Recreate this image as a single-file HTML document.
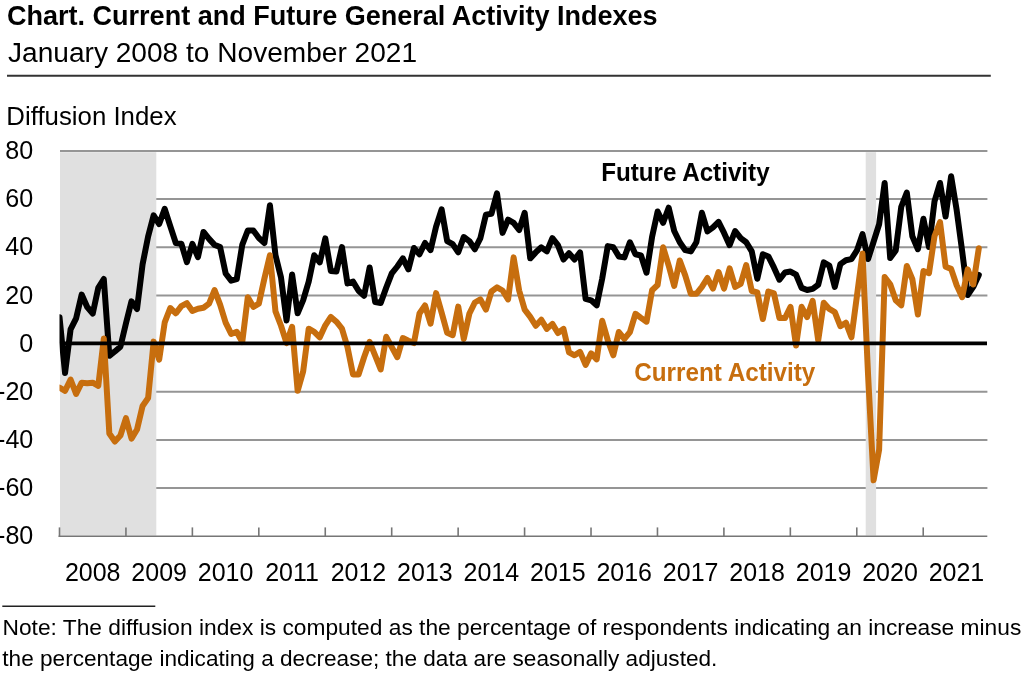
<!DOCTYPE html>
<html><head><meta charset="utf-8"><style>
html,body{margin:0;padding:0;background:#fff;}
body{width:1024px;height:689px;overflow:hidden;}
svg{display:block;font-family:"Liberation Sans", sans-serif;will-change:transform;}
</style></head><body>
<svg width="1024" height="689" viewBox="0 0 1024 689">
<rect width="1024" height="689" fill="#fff"/>
<line x1="60" x2="987.4" y1="150.90" y2="150.90" stroke="#959595" stroke-width="2"/>
<line x1="60" x2="987.4" y1="199.07" y2="199.07" stroke="#959595" stroke-width="2"/>
<line x1="60" x2="987.4" y1="247.25" y2="247.25" stroke="#959595" stroke-width="2"/>
<line x1="60" x2="987.4" y1="295.42" y2="295.42" stroke="#959595" stroke-width="2"/>
<line x1="60" x2="987.4" y1="391.77" y2="391.77" stroke="#959595" stroke-width="2"/>
<line x1="60" x2="987.4" y1="439.95" y2="439.95" stroke="#959595" stroke-width="2"/>
<line x1="60" x2="987.4" y1="488.12" y2="488.12" stroke="#959595" stroke-width="2"/>
<rect x="60" y="152.2" width="96.3" height="383.3" fill="#E0E0E0"/>
<rect x="865.7" y="152.2" width="10.4" height="383.3" fill="#E0E0E0"/>
<line x1="58.6" x2="987.3" y1="536.3" y2="536.3" stroke="#767676" stroke-width="1.6"/>
<line x1="59.50" x2="59.50" y1="527.4" y2="537" stroke="#767676" stroke-width="1.6"/>
<line x1="125.94" x2="125.94" y1="527.4" y2="537" stroke="#767676" stroke-width="1.6"/>
<line x1="192.38" x2="192.38" y1="527.4" y2="537" stroke="#767676" stroke-width="1.6"/>
<line x1="258.82" x2="258.82" y1="527.4" y2="537" stroke="#767676" stroke-width="1.6"/>
<line x1="325.26" x2="325.26" y1="527.4" y2="537" stroke="#767676" stroke-width="1.6"/>
<line x1="391.70" x2="391.70" y1="527.4" y2="537" stroke="#767676" stroke-width="1.6"/>
<line x1="458.14" x2="458.14" y1="527.4" y2="537" stroke="#767676" stroke-width="1.6"/>
<line x1="524.58" x2="524.58" y1="527.4" y2="537" stroke="#767676" stroke-width="1.6"/>
<line x1="591.02" x2="591.02" y1="527.4" y2="537" stroke="#767676" stroke-width="1.6"/>
<line x1="657.46" x2="657.46" y1="527.4" y2="537" stroke="#767676" stroke-width="1.6"/>
<line x1="723.90" x2="723.90" y1="527.4" y2="537" stroke="#767676" stroke-width="1.6"/>
<line x1="790.34" x2="790.34" y1="527.4" y2="537" stroke="#767676" stroke-width="1.6"/>
<line x1="856.78" x2="856.78" y1="527.4" y2="537" stroke="#767676" stroke-width="1.6"/>
<line x1="923.22" x2="923.22" y1="527.4" y2="537" stroke="#767676" stroke-width="1.6"/>
<clipPath id="pc"><rect x="59.5" y="0" width="940" height="689"/></clipPath>
<polyline clip-path="url(#pc)" points="59.50,317.14 65.04,373.06 70.58,329.38 76.11,318.34 81.65,294.58 87.19,307.06 92.73,313.54 98.27,287.86 103.80,278.98 109.34,355.78 114.88,351.46 120.42,346.66 125.96,323.38 131.49,301.30 137.03,308.98 142.57,264.34 148.11,236.50 153.65,215.38 159.18,224.02 164.72,208.90 170.26,226.18 175.80,242.98 181.34,243.70 186.87,262.18 192.41,243.94 197.95,257.14 203.49,231.94 209.03,238.90 214.56,244.90 220.10,247.06 225.64,273.46 231.18,280.66 236.72,279.22 242.25,244.90 247.79,230.50 253.33,230.50 258.87,237.94 264.41,242.98 269.94,205.30 275.48,255.22 281.02,277.54 286.56,320.50 292.10,274.42 297.63,313.30 303.17,300.10 308.71,281.62 314.25,255.22 319.79,262.42 325.32,238.42 330.86,271.06 336.40,271.54 341.94,247.06 347.48,283.54 353.01,281.62 358.55,290.74 364.09,295.78 369.63,267.46 375.17,302.02 380.70,302.98 386.24,287.62 391.78,273.46 397.32,266.50 402.86,258.34 408.39,269.38 413.93,248.02 419.47,254.26 425.01,242.98 430.55,250.18 436.08,226.66 441.62,209.38 447.16,241.06 452.70,244.18 458.24,252.34 463.77,236.98 469.31,241.06 474.85,249.22 480.39,238.18 485.93,214.66 491.46,213.70 497.00,193.30 502.54,232.90 508.08,219.70 513.62,222.82 519.15,230.02 524.69,212.74 530.23,258.34 535.77,252.34 541.31,247.30 546.84,251.38 552.38,238.18 557.92,245.14 563.46,259.54 569.00,253.30 574.53,259.54 580.07,252.34 585.61,298.90 591.15,300.34 596.69,305.38 602.22,278.50 607.76,246.10 613.30,247.30 618.84,256.42 624.38,257.38 629.91,242.26 635.45,254.26 640.99,255.46 646.53,272.74 652.07,236.98 657.60,211.54 663.14,222.82 668.68,207.70 674.22,230.98 679.76,242.26 685.29,250.18 690.83,251.38 696.37,242.26 701.91,212.74 707.45,231.46 712.98,227.38 718.52,221.86 724.06,232.90 729.60,245.14 735.14,230.98 740.67,238.18 746.21,242.26 751.75,251.38 757.29,278.74 762.83,254.26 768.36,256.42 773.90,267.46 779.44,279.70 784.98,272.50 790.52,271.54 796.05,274.66 801.59,287.86 807.13,290.02 812.67,288.82 818.21,284.74 823.74,262.42 829.28,265.54 834.82,286.90 840.36,264.10 845.90,260.26 851.43,259.06 856.97,250.42 862.51,234.10 868.05,259.06 873.59,241.78 879.12,224.26 884.66,182.98 890.20,258.10 895.74,250.42 901.28,206.74 906.81,192.58 912.35,236.26 917.89,249.22 923.43,218.74 928.97,247.06 934.50,201.46 940.04,182.98 945.58,216.58 951.12,176.26 956.66,210.10 962.19,251.38 967.73,295.06 973.27,286.90 978.81,274.90" fill="none" stroke="#000" stroke-width="6" stroke-linejoin="round" stroke-linecap="round"/>
<polyline clip-path="url(#pc)" points="59.50,387.70 65.04,390.82 70.58,379.54 76.11,393.94 81.65,382.66 87.19,383.14 92.73,382.66 98.27,385.78 103.80,338.50 109.34,433.54 114.88,441.46 120.42,435.46 125.96,418.18 131.49,438.58 137.03,429.46 142.57,405.94 148.11,398.02 153.65,341.62 159.18,359.62 164.72,322.42 170.26,308.02 175.80,313.30 181.34,306.10 186.87,303.22 192.41,310.90 197.95,308.74 203.49,307.78 209.03,303.70 214.56,290.02 220.10,304.66 225.64,322.66 231.18,333.94 236.72,331.78 242.25,342.10 247.79,297.22 253.33,306.82 258.87,303.70 264.41,278.50 269.94,255.22 275.48,311.38 281.02,325.78 286.56,343.06 292.10,326.74 297.63,390.82 303.17,371.38 308.71,328.66 314.25,331.78 319.79,337.30 325.32,325.30 330.86,316.90 336.40,321.70 341.94,328.66 347.48,347.14 353.01,374.50 358.55,374.50 364.09,357.22 369.63,341.86 375.17,355.54 380.70,369.46 386.24,336.82 391.78,347.14 397.32,357.22 402.86,338.02 408.39,340.66 413.93,343.06 419.47,313.54 425.01,305.38 430.55,323.62 436.08,293.14 441.62,312.58 447.16,332.74 452.70,335.14 458.24,306.58 463.77,338.98 469.31,313.78 474.85,302.50 480.39,299.38 485.93,309.70 491.46,291.46 497.00,287.38 502.54,290.50 508.08,299.38 513.62,257.38 519.15,290.50 524.69,309.70 530.23,316.90 535.77,325.78 541.31,319.78 546.84,328.90 552.38,323.86 557.92,332.98 563.46,328.90 569.00,352.42 574.53,355.30 580.07,351.94 585.61,364.90 591.15,353.38 596.69,359.38 602.22,320.74 607.76,340.18 613.30,355.30 618.84,332.02 624.38,338.98 629.91,332.02 635.45,313.78 640.99,317.86 646.53,321.70 652.07,290.26 657.60,284.98 663.14,247.30 668.68,265.54 674.22,285.94 679.76,260.50 685.29,275.62 690.83,293.86 696.37,293.86 701.91,286.90 707.45,278.02 712.98,288.58 718.52,272.02 724.06,288.58 729.60,268.42 735.14,286.90 740.67,283.78 746.21,265.06 751.75,290.98 757.29,292.42 762.83,319.06 768.36,291.46 773.90,293.38 779.44,318.10 784.98,318.10 790.52,306.82 796.05,345.46 801.59,306.82 807.13,317.14 812.67,300.82 818.21,340.42 823.74,302.74 829.28,308.98 834.82,312.10 840.36,326.26 845.90,322.66 851.43,337.30 856.97,295.54 862.51,253.54 868.05,374.50 873.59,480.34 879.12,449.62 884.66,277.06 890.20,284.26 895.74,300.34 901.28,305.38 906.81,266.02 912.35,279.22 917.89,314.50 923.43,271.06 928.97,273.22 934.50,236.26 940.04,222.10 945.58,266.74 951.12,268.90 956.66,285.22 962.19,297.22 967.73,269.38 973.27,284.50 978.81,248.26" fill="none" stroke="#C76E0E" stroke-width="6" stroke-linejoin="round" stroke-linecap="round"/>
<line x1="60" x2="987" y1="343.4" y2="343.4" stroke="#000" stroke-width="3.6"/>
<line x1="7" x2="990.8" y1="75.85" y2="75.85" stroke="#333" stroke-width="2"/>
<line x1="2.3" x2="155.3" y1="606.3" y2="606.3" stroke="#222" stroke-width="1.6"/>
<text x="7.04" y="24.60" font-size="28" font-weight="bold" fill="#000" textLength="650.51" lengthAdjust="spacingAndGlyphs">Chart. Current and Future General Activity Indexes</text>
<text x="8.00" y="62.20" font-size="27.7" fill="#000" textLength="409.10" lengthAdjust="spacingAndGlyphs">January 2008 to November 2021</text>
<text x="6.34" y="124.90" font-size="25" fill="#000" textLength="170.25" lengthAdjust="spacingAndGlyphs">Diffusion Index</text>
<text x="601.14" y="181.00" font-size="25" font-weight="bold" fill="#000" textLength="168.47" lengthAdjust="spacingAndGlyphs">Future Activity</text>
<text x="634.25" y="381.30" font-size="25.5" font-weight="bold" fill="#C76E0E" textLength="180.97" lengthAdjust="spacingAndGlyphs">Current Activity</text>
<text x="2.47" y="634.80" font-size="22" fill="#000" textLength="1018.83" lengthAdjust="spacingAndGlyphs">Note: The diffusion index is computed as the percentage of respondents indicating an increase minus</text>
<text x="2.30" y="665.60" font-size="22" fill="#000" textLength="715.04" lengthAdjust="spacingAndGlyphs">the percentage indicating a decrease; the data are seasonally adjusted.</text>
<text x="33.3" y="159.00" font-size="25.4" text-anchor="end" fill="#000" transform="translate(33.3 0) scale(0.9882 1) translate(-33.3 0)">80</text>
<text x="33.3" y="207.17" font-size="25.4" text-anchor="end" fill="#000" transform="translate(33.3 0) scale(0.9882 1) translate(-33.3 0)">60</text>
<text x="33.3" y="255.35" font-size="25.4" text-anchor="end" fill="#000" transform="translate(33.3 0) scale(0.9882 1) translate(-33.3 0)">40</text>
<text x="33.3" y="303.52" font-size="25.4" text-anchor="end" fill="#000" transform="translate(33.3 0) scale(0.9882 1) translate(-33.3 0)">20</text>
<text x="33.3" y="351.70" font-size="25.4" text-anchor="end" fill="#000" transform="translate(33.3 0) scale(0.9882 1) translate(-33.3 0)">0</text>
<text x="33.3" y="399.88" font-size="25.4" text-anchor="end" fill="#000" transform="translate(33.3 0) scale(0.9882 1) translate(-33.3 0)">-20</text>
<text x="33.3" y="448.05" font-size="25.4" text-anchor="end" fill="#000" transform="translate(33.3 0) scale(0.9882 1) translate(-33.3 0)">-40</text>
<text x="33.3" y="496.23" font-size="25.4" text-anchor="end" fill="#000" transform="translate(33.3 0) scale(0.9882 1) translate(-33.3 0)">-60</text>
<text x="33.3" y="544.40" font-size="25.4" text-anchor="end" fill="#000" transform="translate(33.3 0) scale(0.9882 1) translate(-33.3 0)">-80</text>
<text x="92.72" y="580.8" font-size="25.4" text-anchor="middle" fill="#000" transform="translate(92.72 0) scale(0.9844 1) translate(-92.72 0)">2008</text>
<text x="159.16" y="580.8" font-size="25.4" text-anchor="middle" fill="#000" transform="translate(159.16 0) scale(0.9844 1) translate(-159.16 0)">2009</text>
<text x="225.60" y="580.8" font-size="25.4" text-anchor="middle" fill="#000" transform="translate(225.60 0) scale(0.9844 1) translate(-225.60 0)">2010</text>
<text x="292.04" y="580.8" font-size="25.4" text-anchor="middle" fill="#000" transform="translate(292.04 0) scale(0.9844 1) translate(-292.04 0)">2011</text>
<text x="358.48" y="580.8" font-size="25.4" text-anchor="middle" fill="#000" transform="translate(358.48 0) scale(0.9844 1) translate(-358.48 0)">2012</text>
<text x="424.92" y="580.8" font-size="25.4" text-anchor="middle" fill="#000" transform="translate(424.92 0) scale(0.9844 1) translate(-424.92 0)">2013</text>
<text x="491.36" y="580.8" font-size="25.4" text-anchor="middle" fill="#000" transform="translate(491.36 0) scale(0.9844 1) translate(-491.36 0)">2014</text>
<text x="557.80" y="580.8" font-size="25.4" text-anchor="middle" fill="#000" transform="translate(557.80 0) scale(0.9844 1) translate(-557.80 0)">2015</text>
<text x="624.24" y="580.8" font-size="25.4" text-anchor="middle" fill="#000" transform="translate(624.24 0) scale(0.9844 1) translate(-624.24 0)">2016</text>
<text x="690.68" y="580.8" font-size="25.4" text-anchor="middle" fill="#000" transform="translate(690.68 0) scale(0.9844 1) translate(-690.68 0)">2017</text>
<text x="757.12" y="580.8" font-size="25.4" text-anchor="middle" fill="#000" transform="translate(757.12 0) scale(0.9844 1) translate(-757.12 0)">2018</text>
<text x="823.56" y="580.8" font-size="25.4" text-anchor="middle" fill="#000" transform="translate(823.56 0) scale(0.9844 1) translate(-823.56 0)">2019</text>
<text x="890.00" y="580.8" font-size="25.4" text-anchor="middle" fill="#000" transform="translate(890.00 0) scale(0.9844 1) translate(-890.00 0)">2020</text>
<text x="956.44" y="580.8" font-size="25.4" text-anchor="middle" fill="#000" transform="translate(956.44 0) scale(0.9844 1) translate(-956.44 0)">2021</text>
</svg>
</body></html>
